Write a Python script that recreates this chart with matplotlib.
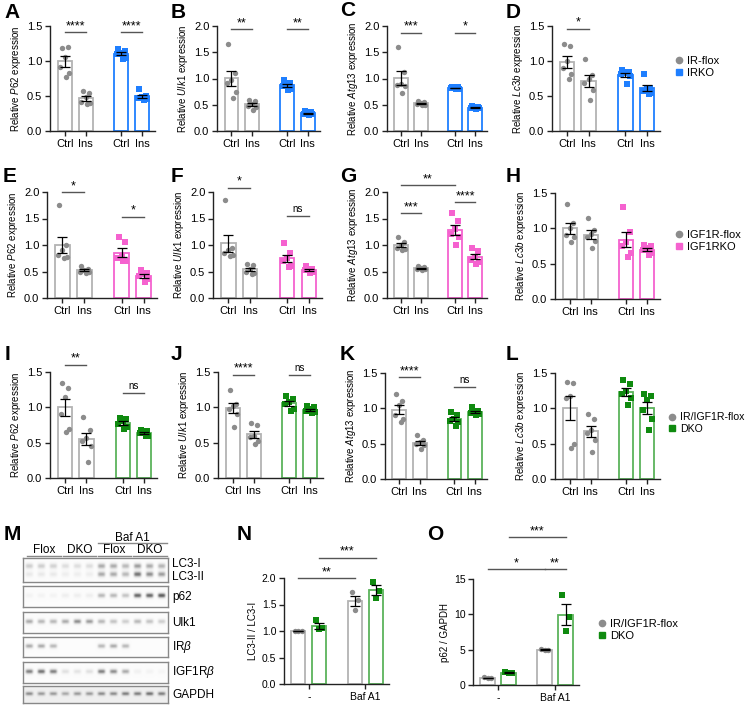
import numpy as np
import matplotlib.pyplot as plt
from matplotlib.lines import Line2D

plt.rcParams['font.family'] = ['Liberation Sans', 'DejaVu Sans']
plt.rcParams['mathtext.fontset'] = 'custom'
plt.rcParams['mathtext.rm'] = 'Liberation Sans'
plt.rcParams['mathtext.it'] = 'Liberation Sans:italic'

# ---- qPCR data (flox Ctrl, flox Ins, KO Ctrl, KO Ins) ----
A_p62 = [[1.19, 1.20, 1.06, 0.92, 0.83, 0.77], [0.57, 0.55, 0.48, 0.42, 0.40, 0.38],
         [1.17, 1.15, 1.12, 1.10, 1.05, 1.03], [0.60, 0.50, 0.48, 0.47, 0.46, 0.45]]
B_ulk1 = [[1.65, 1.10, 0.98, 0.92, 0.75, 0.62], [0.60, 0.58, 0.52, 0.48, 0.45, 0.40],
          [0.97, 0.92, 0.90, 0.85, 0.80, 0.78], [0.38, 0.36, 0.34, 0.33, 0.32, 0.30]]
C_atg13 = [[1.60, 1.12, 0.90, 0.88, 0.85, 0.72], [0.57, 0.55, 0.53, 0.52, 0.50, 0.50],
           [0.84, 0.83, 0.82, 0.81, 0.80, 0.80], [0.48, 0.46, 0.45, 0.44, 0.43, 0.42]]
D_lc3b = [[1.24, 1.22, 1.00, 0.90, 0.82, 0.74], [1.03, 0.80, 0.74, 0.68, 0.58, 0.45],
          [0.87, 0.85, 0.84, 0.82, 0.78, 0.67], [0.82, 0.62, 0.60, 0.57, 0.55, 0.53]]
E_p62 = [[1.75, 1.00, 0.90, 0.82, 0.78, 0.75], [0.60, 0.55, 0.52, 0.50, 0.50, 0.48],
         [1.15, 1.05, 0.80, 0.75, 0.70, 0.70], [0.52, 0.48, 0.45, 0.42, 0.35, 0.30]]
F_ulk1 = [[1.85, 0.95, 0.90, 0.85, 0.82, 0.80], [0.65, 0.62, 0.55, 0.50, 0.48, 0.45],
          [1.03, 0.85, 0.75, 0.70, 0.60, 0.58], [0.60, 0.55, 0.53, 0.52, 0.50, 0.48]]
G_atg13 = [[1.16, 1.05, 1.00, 0.95, 0.92, 0.90], [0.60, 0.58, 0.56, 0.55, 0.54, 0.53],
           [1.60, 1.45, 1.30, 1.20, 1.15, 1.00], [0.95, 0.88, 0.78, 0.72, 0.68, 0.65]]
H_lc3b = [[1.35, 1.08, 1.00, 0.90, 0.88, 0.80], [1.15, 0.97, 0.92, 0.88, 0.82, 0.72],
          [1.30, 0.95, 0.80, 0.75, 0.65, 0.60], [0.76, 0.75, 0.72, 0.70, 0.65, 0.62]]
I_p62 = [[1.35, 1.27, 1.15, 0.90, 0.70, 0.65], [0.86, 0.68, 0.57, 0.52, 0.45, 0.22],
         [0.85, 0.83, 0.80, 0.77, 0.72, 0.70], [0.68, 0.67, 0.65, 0.63, 0.60, 0.60]]
J_ulk1 = [[1.24, 1.05, 1.02, 0.98, 0.90, 0.72], [0.78, 0.75, 0.60, 0.58, 0.52, 0.48],
          [1.16, 1.12, 1.08, 1.05, 0.98, 0.95], [1.02, 1.00, 0.97, 0.95, 0.93, 0.92]]
K_atg13 = [[1.20, 1.10, 1.05, 0.90, 0.85, 0.80], [0.62, 0.55, 0.52, 0.50, 0.48, 0.42],
           [0.95, 0.90, 0.85, 0.82, 0.80, 0.75], [1.02, 0.96, 0.95, 0.93, 0.92, 0.90]]
L_lc3b = [[1.37, 1.36, 1.18, 1.15, 0.50, 0.44], [0.92, 0.85, 0.70, 0.65, 0.55, 0.38],
          [1.40, 1.35, 1.25, 1.20, 1.15, 1.05], [1.20, 1.18, 1.12, 0.97, 0.85, 0.70]]

# ---- western blot quantification (flox -, DKO -, flox Baf, DKO Baf) ----
N_lc3 = [[1.00, 1.00, 1.00], [1.20, 1.06, 1.03], [1.73, 1.58, 1.40], [1.93, 1.76, 1.63]]
O_p62 = [[1.10, 1.00, 0.95], [1.80, 1.75, 1.65], [5.05, 5.00, 4.95], [12.7, 9.6, 7.6]]

# ---- blot band intensities, 12 lanes ----
blot_lc3_i = [0.30, 0.30, 0.28, 0.22, 0.22, 0.22, 0.45, 0.45, 0.40, 0.50, 0.45, 0.42]
blot_lc3_ii = [0.15, 0.15, 0.15, 0.12, 0.12, 0.12, 0.45, 0.45, 0.40, 0.65, 0.55, 0.50]
blot_p62 = [0.08, 0.08, 0.08, 0.12, 0.12, 0.12, 0.40, 0.40, 0.35, 0.70, 0.70, 0.75]
blot_ulk1 = [0.45, 0.40, 0.40, 0.45, 0.55, 0.50, 0.40, 0.35, 0.30, 0.40, 0.35, 0.30]
blot_ir = [0.45, 0.45, 0.40, 0.0, 0.0, 0.0, 0.40, 0.45, 0.40, 0.0, 0.0, 0.0]
blot_igf1r = [0.60, 0.65, 0.60, 0.20, 0.18, 0.20, 0.60, 0.55, 0.45, 0.10, 0.08, 0.06]
blot_gapdh = [0.45, 0.40, 0.40, 0.35, 0.40, 0.40, 0.45, 0.45, 0.50, 0.50, 0.55, 0.50]

GRAY, GRAY_E = '#8c8c8c', '#b3b3b3'
BLUE = '#1f7fff'
PINK = '#f562cf'
GREEN, GREEN_E = '#0f8a0f', '#5cb35c'

W, H = 745, 707
fig = plt.figure(figsize=(W / 100, H / 100), dpi=100)


def px_axes(l, t, r, b):
    return fig.add_axes([l / W, 1 - b / H, (r - l) / W, (b - t) / H])


def style(ax):
    for s in ['top', 'right']:
        ax.spines[s].set_visible(False)
    for s in ['left', 'bottom']:
        ax.spines[s].set_linewidth(1.0)
        ax.spines[s].set_color('#222222')
    ax.tick_params(length=3.5, width=1.0, labelsize=8, color='#222222', pad=2)


offs = [-0.15, 0.15, 0.0, -0.2, 0.2, 0.07]


def draw_bars(ax, data, xs, width, colors, edges, markers):
    for vals, x, c, e, m in zip(data, xs, colors, edges, markers):
        vals = np.array(vals)
        mean = vals.mean()
        sem = vals.std(ddof=1) / np.sqrt(len(vals))
        ax.bar(x, mean, width, facecolor='white', edgecolor=e, linewidth=1.3, zorder=2)
        ax.scatter(x + np.array(offs[:len(vals)]) * width / 0.67, vals, s=15, color=c,
                   marker=m, zorder=3, linewidths=0)
        ax.errorbar(x, mean, yerr=sem, color='black', lw=0.9, capsize=3.5,
                    capthick=0.9, zorder=4)


def sig(ax, x1, x2, y, txt, color='#555555'):
    ax.plot([x1, x2], [y, y], color=color, lw=1.0, clip_on=False)
    fs = 7 if txt == 'ns' else 9
    ax.annotate(txt, ((x1 + x2) / 2, y), xytext=(0, 1.5 if txt == 'ns' else 0),
                textcoords='offset points', ha='center', va='bottom',
                fontsize=fs, annotation_clip=False)


pos = np.array([0, 1, 2.7, 3.7])


def qpcr(rect, gene, data, ko_color, ko_edge, ymax, sigs):
    ax = px_axes(*rect)
    style(ax)
    draw_bars(ax, data, pos, 0.67, [GRAY, GRAY, ko_color, ko_color],
              [GRAY_E, GRAY_E, ko_edge, ko_edge], ['o', 'o', 's', 's'])
    ax.set_xlim(-0.7, 4.3)
    ax.set_ylim(0, ymax)
    ticks = np.arange(0, ymax + 0.01, 0.5)
    ax.set_yticks(ticks)
    ax.set_yticklabels(['%.1f' % t for t in ticks])
    ax.set_xticks(pos)
    ax.set_xticklabels(['Ctrl', 'Ins', 'Ctrl', 'Ins'])
    ax.set_ylabel('Relative $\\mathit{%s}$ expression' % gene, fontsize=7, labelpad=3)
    for i, j, y, t in sigs:
        sig(ax, pos[i], pos[j], y, t)
    return ax


qpcr((50, 26, 155, 131), 'P62', A_p62, BLUE, BLUE, 1.5, [(0, 1, 1.41, '****'), (2, 3, 1.41, '****')])
qpcr((217, 26, 320, 131), 'Ulk1', B_ulk1, BLUE, BLUE, 2.0, [(0, 1, 1.94, '**'), (2, 3, 1.94, '**')])
qpcr((387, 26, 487, 131), 'Atg13', C_atg13, BLUE, BLUE, 2.0, [(0, 1, 1.87, '***'), (2, 3, 1.87, '*')])
qpcr((552, 26, 660, 131), 'Lc3b', D_lc3b, BLUE, BLUE, 1.5, [(0, 1, 1.46, '*')])

qpcr((47, 192, 157, 298), 'P62', E_p62, PINK, PINK, 2.0, [(0, 1, 2.0, '*'), (2, 3, 1.53, '*')])
qpcr((213, 192, 322, 298), 'Ulk1', F_ulk1, PINK, PINK, 2.0, [(0, 1, 2.08, '*'), (2, 3, 1.55, 'ns')])
qpcr((387, 192, 487, 298), 'Atg13', G_atg13, PINK, PINK, 2.0,
     [(0, 2, 2.13, '**'), (0, 1, 1.6, '***'), (2, 3, 1.81, '****')])
qpcr((555, 193, 660, 299), 'Lc3b', H_lc3b, PINK, PINK, 1.5, [])

qpcr((50, 372, 157, 478), 'P62', I_p62, GREEN, GREEN_E, 1.5, [(0, 1, 1.6, '**'), (2, 3, 1.2, 'ns')])
qpcr((218, 372, 323, 478), 'Ulk1', J_ulk1, GREEN, GREEN_E, 1.5, [(0, 1, 1.46, '****'), (2, 3, 1.46, 'ns')])
qpcr((385, 373, 487, 479), 'Atg13', K_atg13, GREEN, GREEN_E, 1.5, [(0, 1, 1.44, '****'), (2, 3, 1.30, 'ns')])
qpcr((555, 373, 660, 479), 'Lc3b', L_lc3b, GREEN, GREEN_E, 1.5, [])


def legend(x, y, labels, color, fs=8):
    h = [Line2D([], [], marker='o', color=GRAY, ls='none', markersize=4.5),
         Line2D([], [], marker='s', color=color, ls='none', markersize=4.5)]
    fig.legend(h, labels, loc='center left', bbox_to_anchor=(x / W, 1 - y / H),
               frameon=False, fontsize=fs, handlelength=0.6, handletextpad=0.4,
               labelspacing=0.15, borderpad=0)


legend(670, 67, ['IR-flox', 'IRKO'], BLUE)
legend(670, 241, ['IGF1R-flox', 'IGF1RKO'], PINK)
legend(664, 423, ['IR/IGF1R-flox', 'DKO'], GREEN, fs=7.6)
legend(593, 630, ['IR/IGF1R-flox', 'DKO'], GREEN)

# ---- western blot (M) ----
strips = [((23, 558, 168, 582), [(blot_lc3_i, 0.33), (blot_lc3_ii, 0.68)], 0.03),
          ((23, 586, 168, 607), [(blot_p62, 0.45)], 0.03),
          ((23, 612, 168, 633), [(blot_ulk1, 0.45)], 0.03),
          ((23, 637, 168, 657), [(blot_ir, 0.45)], 0.03),
          ((23, 662, 168, 683), [(blot_igf1r, 0.45)], 0.03),
          ((23, 686, 168, 703), [(blot_gapdh, 0.45)], 0.14)]
nx, ny = 240, 40
gx = np.linspace(0, 12, nx)
gy = np.linspace(0, 1, ny)
XX, YY = np.meshgrid(gx, gy)
for rect, bands, bg in strips:
    ax = px_axes(*rect)
    img = np.full((ny, nx), bg)
    for inten, yc in bands:
        for k, v in enumerate(inten):
            img += v * np.exp(-((XX - (k + 0.5)) / 0.33) ** 4 - ((YY - yc) / 0.12) ** 2)
    ax.imshow(img, cmap='Greys', vmin=0, vmax=1.1, aspect='auto', extent=(0, 12, 1, 0))
    ax.set_xticks([])
    ax.set_yticks([])
    for s in ax.spines.values():
        s.set_color('#888888')
        s.set_linewidth(1.0)

blot_labels = [('LC3-I', 564), ('LC3-II', 577), ('p62', 597), ('Ulk1', 623),
               ('IR$\\beta$', 647), ('IGF1R$\\beta$', 672), ('GAPDH', 695)]
for t, y in blot_labels:
    fig.text(172 / W, 1 - y / H, t, fontsize=8.5, va='center', ha='left')

for t, x0, x1 in [('Flox', 27, 61), ('DKO', 63, 96), ('Flox', 98, 131), ('DKO', 133, 167)]:
    fig.text((x0 + x1) / 2 / W, 1 - 550 / H, t, fontsize=8.5, ha='center', va='center')
    fig.add_artist(Line2D([x0 / W, x1 / W], [1 - 556 / H] * 2, color='#888888', lw=1))
fig.text(132 / W, 1 - 538 / H, 'Baf A1', fontsize=8.5, ha='center', va='center')
fig.add_artist(Line2D([98 / W, 167 / W], [1 - 543 / H] * 2, color='#888888', lw=1))

# ---- N and O ----
npos = np.array([-0.185, 0.185, 0.815, 1.185])


def quant(rect, data, ymax, ystep, fmt, ylabel, sigs):
    ax = px_axes(*rect)
    style(ax)
    draw_bars(ax, data, npos, 0.25, [GRAY, GREEN, GRAY, GREEN],
              [GRAY_E, GREEN_E, GRAY_E, GREEN_E], ['o', 's', 'o', 's'])
    ax.set_xlim(-0.44, 1.42)
    ax.set_ylim(0, ymax)
    ticks = np.arange(0, ymax + 0.01, ystep)
    ax.set_yticks(ticks)
    ax.set_yticklabels([fmt % t for t in ticks])
    ax.set_xticks([0, 1])
    ax.set_xticklabels(['-', 'Baf A1'], fontsize=7.5)
    ax.tick_params(axis='y', labelsize=7.5)
    ax.set_ylabel(ylabel, fontsize=7, labelpad=3)
    for i, j, y, t in sigs:
        sig(ax, npos[i], npos[j], y, t)


quant((284, 578, 389, 684), N_lc3, 2.0, 0.5, '%.1f', 'LC3-II / LC3-I',
      [(0, 2, 2.0, '**'), (1, 3, 2.38, '***')])
quant((473, 579, 579, 685), O_p62, 15, 5, '%d', 'p62 / GAPDH',
      [(0, 2, 16.4, '*'), (2, 3, 16.4, '**'), (1, 3, 20.9, '***')])

# ---- panel letters ----
letters = [('A', 4, 12), ('B', 171, 12), ('C', 340, 11), ('D', 506, 12),
           ('E', 3, 177), ('F', 171, 177), ('G', 340, 176), ('H', 506, 177),
           ('I', 5, 355), ('J', 171, 355), ('K', 340, 355), ('L', 506, 355),
           ('M', 4, 535), ('N', 237, 535), ('O', 427, 535)]
for t, x, y in letters:
    fig.text(x / W, 1 - y / H, t, fontsize=15, fontweight='bold', ha='left', va='center')

fig.savefig('out.png', dpi=100)
